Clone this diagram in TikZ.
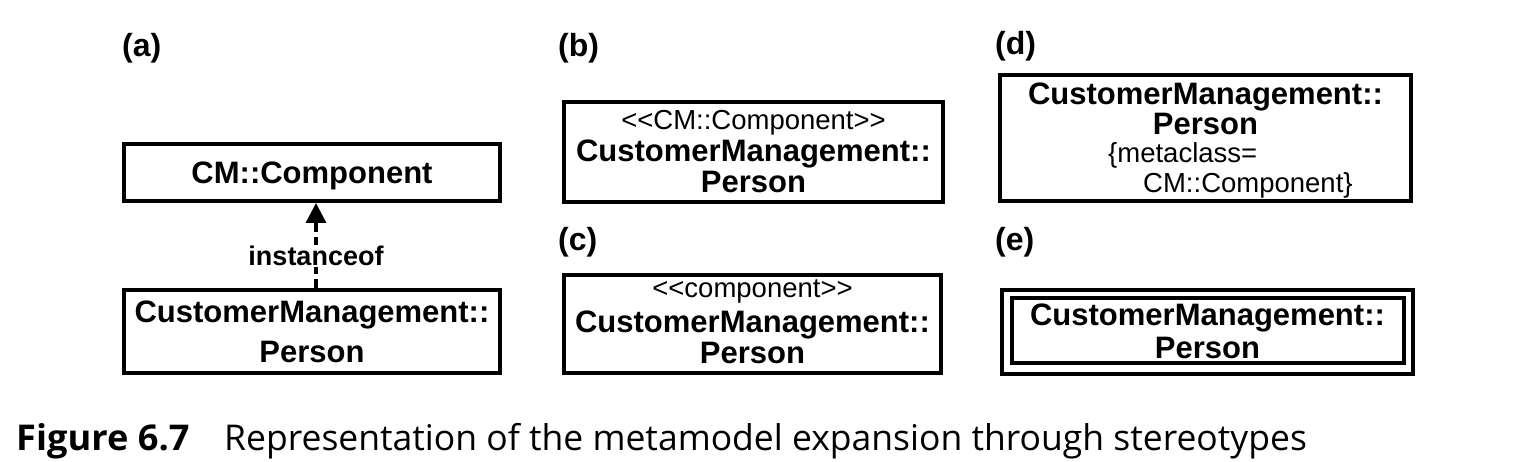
\documentclass[tikz,border=0pt]{standalone}
\usepackage{fontspec}
\setmainfont{Liberation Sans}
\newfontfamily\capfont{Open Sans}
\usetikzlibrary{arrows.meta}
\begin{document}
\begin{tikzpicture}[x=1pt,y=-1pt,
  box/.style={draw, line width=4pt, inner sep=0pt},
  nm/.style={font=\fontsize{31}{31}\selectfont\bfseries, anchor=base, inner sep=0pt},
  st/.style={font=\fontsize{27.5}{27.5}\selectfont, anchor=base, inner sep=0pt},
  stw/.style={font=\fontsize{27.5}{27.5}\selectfont, anchor=base west, inner sep=0pt},
  lbl/.style={font=\fontsize{32}{32}\selectfont\bfseries, anchor=base west, inner sep=0pt},
  captionstyle/.style={font=\capfont\fontsize{35.5}{35.5}\selectfont, anchor=base west, inner sep=0pt},
  inst/.style={-{Triangle[length=20pt,width=20pt]}, line width=3.4pt, dash pattern=on 9pt off 5pt},
]
\useasboundingbox (0,0) rectangle (1528,462);

% (a)
\node[lbl] (la) at (122,57) {(a)};
\node[box, minimum width=376pt, minimum height=57pt] (acomp) at (312,172.5) {};
\node[nm] (acompt) at (312,184) {CM::Component};
\node[box, minimum width=376pt, minimum height=83pt] (aperson) at (312,331.5) {};
\node[nm] (ap1) at (312,322) {CustomerManagement::};
\node[nm] (ap2) at (312,362) {Person};
\draw[inst] ([xshift=4pt]aperson.north) -- node[pos=0.38, fill=white, inner sep=1pt, font=\fontsize{27}{27}\selectfont\bfseries] (instlbl) {instanceof} ([xshift=4pt]acomp.south);

% (b)
\node[lbl] (lb) at (558,57) {(b)};
\node[box, minimum width=379pt, minimum height=100pt] (bbox) at (753.5,152) {};
\node[st] (b0) at (753.5,130) {<{}<CM::Component>{}>};
\node[nm] (b1) at (753.5,162) {CustomerManagement::};
\node[nm] (b2) at (753.5,193) {Person};

% (c)
\node[lbl] (lc) at (558,251) {(c)};
\node[box, minimum width=377pt, minimum height=98pt] (cbox) at (752.5,324) {};
\node[st] (c0) at (752.5,298) {<{}<component>{}>};
\node[nm] (c1) at (752.5,332) {CustomerManagement::};
\node[nm] (c2) at (752.5,363) {Person};

% (d)
\node[lbl] (ld) at (995,55) {(d)};
\node[box, minimum width=411pt, minimum height=126pt] (dbox) at (1205.5,138) {};
\node[nm] (d1) at (1205.5,105) {CustomerManagement::};
\node[nm] (d2) at (1205.5,135) {Person};
\node[stw] (d3) at (1108,163) {\{metaclass=};
\node[stw] (d4) at (1143,193) {CM::Component\}};

% (e)
\node[lbl] (le) at (995,251) {(e)};
\node[box, minimum width=411pt, minimum height=84pt] (eout) at (1207.5,332) {};
\node[box, line width=3.6pt, minimum width=392pt, minimum height=65pt] (ein) at (1208,330.5) {};
\node[nm] (e1) at (1207.5,325) {CustomerManagement::};
\node[nm] (e2) at (1207.5,358) {Person};

% caption
\node[captionstyle, font=\capfont\bfseries\fontsize{35.5}{35.5}\selectfont] (fig) at (16,450) {\scalebox{1.02}[1]{Figure 6.7}};
\node[captionstyle] (captext) at (224,450) {Representation of the metamodel expansion through stereotypes};
\end{tikzpicture}
\end{document}
